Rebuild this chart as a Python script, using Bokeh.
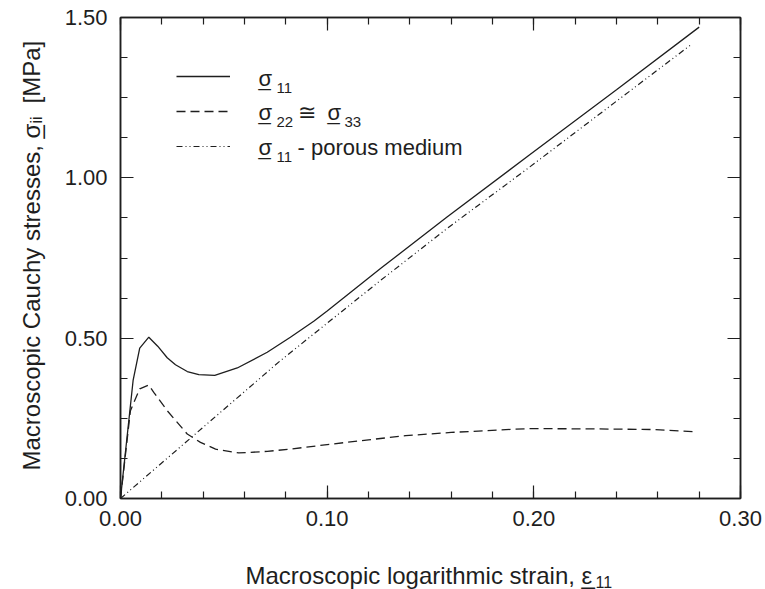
import math
from bokeh.plotting import figure
from bokeh.layouts import row, column
from bokeh.models import (ColumnDataSource, LinearAxis, FixedTicker, NumeralTickFormatter,
                          Legend, LegendItem, Range1d, Label)
from bokeh.embed import file_html
from bokeh.resources import INLINE

# ---- data ----
strain_s11 = [0.0, 0.0061, 0.0093, 0.0137, 0.0180, 0.0226, 0.0266, 0.0323, 0.0379, 0.0456,
              0.0565, 0.0710, 0.0822, 0.0935, 0.1000, 0.1258, 0.1580, 0.1980, 0.2400, 0.2800]
stress_s11 = [0.0, 0.368, 0.469, 0.503, 0.475, 0.439, 0.417, 0.396, 0.386, 0.384,
              0.407, 0.456, 0.503, 0.553, 0.585, 0.717, 0.878, 1.072, 1.275, 1.470]

strain_s22 = [0.0, 0.0048, 0.0093, 0.0137, 0.0161, 0.0226, 0.0323, 0.0387, 0.0460, 0.0572,
              0.0710, 0.0822, 0.1000, 0.1200, 0.1380, 0.1600, 0.1840, 0.1980, 0.2300, 0.2580, 0.2790]
stress_s22 = [0.0, 0.274, 0.342, 0.354, 0.331, 0.274, 0.201, 0.175, 0.154, 0.142,
              0.147, 0.154, 0.168, 0.183, 0.196, 0.206, 0.214, 0.218, 0.217, 0.215, 0.208]

strain_porous = [0.0, 0.0774, 0.1258, 0.1580, 0.1970, 0.2760]
stress_porous = [0.0, 0.430, 0.680, 0.842, 1.029, 1.415]

x_major = [0.0, 0.1, 0.2, 0.3]
y_major = [0.0, 0.5, 1.0, 1.5]
x_minor = [i * 0.02 for i in range(16)]
y_minor = [i * 0.125 for i in range(13)]

FONT = "Liberation Sans"
INK = "#1e1e1e"

W, H = 765, 589
LEFT_W = 60                # strip holding the y-axis title
BOT_H = 39                 # strip holding the x-axis title
MAIN_W, MAIN_H = W - LEFT_W, H - BOT_H
FRAME_LEFT = 120           # canvas x of the plot frame's left edge
FRAME_BOTTOM = 498         # canvas y of the plot frame's bottom edge

p = figure(width=MAIN_W, height=MAIN_H, output_backend="svg", toolbar_location=None,
           x_range=Range1d(0, 0.3), y_range=Range1d(0, 1.5),
           min_border_left=FRAME_LEFT - LEFT_W, min_border_right=25, min_border_top=17,
           min_border_bottom=MAIN_H - FRAME_BOTTOM)
p.grid.visible = False
p.background_fill_color = "white"
p.border_fill_color = "white"
p.outline_line_color = INK
p.outline_line_width = 1.5

s1 = ColumnDataSource(dict(x=strain_s11, y=stress_s11))
s2 = ColumnDataSource(dict(x=strain_s22, y=stress_s22))
s3 = ColumnDataSource(dict(x=strain_porous, y=stress_porous))

r1 = p.line("x", "y", source=s1, line_color=INK, line_width=1.3)
r2 = p.line("x", "y", source=s2, line_color=INK, line_width=1.3, line_dash="9 5")
r3 = p.line("x", "y", source=s3, line_color=INK, line_width=1.2, line_dash="6 3 1 3 1 3")

def style_axis(ax, ticks, minor, show_labels):
    ax.ticker = FixedTicker(ticks=ticks, minor_ticks=minor)
    ax.formatter = NumeralTickFormatter(format="0.00")
    ax.major_tick_in = 13
    ax.major_tick_out = 0
    ax.minor_tick_in = 7
    ax.minor_tick_out = 0
    ax.axis_line_color = INK
    ax.axis_line_width = 1.5
    ax.major_tick_line_color = INK
    ax.minor_tick_line_color = INK
    ax.major_tick_line_width = 1.2
    ax.minor_tick_line_width = 1.2
    ax.major_label_text_font = FONT
    ax.major_label_text_font_size = "22px" if show_labels else "0px"
    ax.major_label_text_color = INK if show_labels else None

style_axis(p.xaxis[0], x_major, x_minor, True)
style_axis(p.yaxis[0], y_major, y_minor, True)
p.xaxis[0].major_label_standoff = 12
p.yaxis[0].major_label_standoff = 13

top_ax = LinearAxis()
right_ax = LinearAxis()
style_axis(top_ax, x_major, x_minor, False)
style_axis(right_ax, y_major, y_minor, False)
p.add_layout(top_ax, "above")
p.add_layout(right_ax, "right")

# legend samples (text is composed below so that underlines and subscripts match)
legend = Legend(items=[LegendItem(label=" ", renderers=[r1]),
                       LegendItem(label=" ", renderers=[r2]),
                       LegendItem(label=" ", renderers=[r3])],
                location=(56, 339), orientation="vertical",
                glyph_width=54, glyph_height=26, label_height=26, spacing=9,
                label_standoff=28, padding=0, margin=0,
                label_text_font=FONT, label_text_font_size="22px",
                border_line_color=None, background_fill_alpha=0)
p.add_layout(legend, "center")


def blank(w, h):
    f = figure(width=w, height=h, output_backend="svg", toolbar_location=None, title=None,
               x_range=Range1d(0, w), y_range=Range1d(0, h), min_border=0,
               min_border_left=0, min_border_right=0, min_border_top=0, min_border_bottom=0,
               x_axis_type=None, y_axis_type=None)
    f.outline_line_color = None
    f.grid.visible = False
    f.background_fill_color = "white"
    f.border_fill_color = "white"
    return f

yfig = blank(LEFT_W, H)        # occupies canvas x 0..60, y 0..589
xfig = blank(MAIN_W, BOT_H)    # below the plot; its frame lines up with the plot frame


def txt(fig, ox, obottom, s, cx, cy, size, angle=0.0):
    """Text piece whose baseline starts at canvas pixel (cx, cy)."""
    fig.add_layout(Label(text=s, x=cx - ox, y=obottom - cy, x_units="screen", y_units="screen",
                         angle=angle, text_align="left", text_baseline="alphabetic",
                         text_font=FONT, text_font_size=f"{size}px", text_color=INK))

def sym(fig, ox, obottom, s, cx, cy, size, angle=0.0):
    """Underlined symbol."""
    txt(fig, ox, obottom, s, cx, cy, size, angle)
    txt(fig, ox, obottom, "_", cx, cy, size, angle)

# legend texts (main figure, frame-relative)
M = (p, FRAME_LEFT, FRAME_BOTTOM)
sym(*M, "\u03c3", 258, 78, 22);  txt(*M, "11", 276, 87, 15)
sym(*M, "\u03c3", 258, 112, 22); txt(*M, "22", 276, 121, 15)
txt(*M, "\u2245", 297, 112, 22)
sym(*M, "\u03c3", 327, 112, 22); txt(*M, "33", 344, 121, 15)
sym(*M, "\u03c3", 258, 147, 22); txt(*M, "11", 276, 156, 15)
txt(*M, "- porous medium", 297, 147, 22)

# x axis title
X = (xfig, FRAME_LEFT, H)
txt(*X, "Macroscopic logarithmic strain,", 245, 575, 24)
sym(*X, "\u03b5", 581, 575, 24)
txt(*X, "11", 595, 581, 16)

# y axis title (rotated, reading upwards)
A = math.pi / 2
Y = (yfig, 0, H)
txt(*Y, "Macroscopic Cauchy stresses,", 31, 470, 24, A)
sym(*Y, "\u03c3", 31, 138, 24, A)
txt(*Y, "ii", 36, 123, 16, A)
txt(*Y, "[MPa]", 31, 103, 24, A)

layout = row(yfig, column(p, xfig))
open("out.html", "w").write(file_html(layout, INLINE))
